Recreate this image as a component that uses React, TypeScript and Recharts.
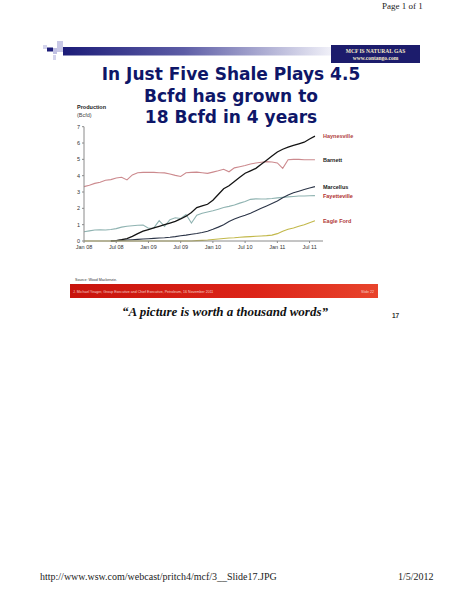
import React from "react";
import { LineChart, Line, XAxis, YAxis } from "recharts";

// months since Jan 08 (0..43 = Jan 08 .. Aug 11)
const months = Array.from({ length: 44 }, (_, i) => i);
const tickMonths = [0, 6, 12, 18, 24, 30, 36, 42];
const tickLabels = ["Jan 08", "Jul 08", "Jan 09", "Jul 09", "Jan 10", "Jul 10", "Jan 11", "Jul 11"];
const yTicks = [0, 1, 2, 3, 4, 5, 6, 7];

// production, Bcfd
const haynesville = [
  null, null, null, null, null, 0, 0.02, 0.08, 0.15, 0.28, 0.45, 0.6, 0.7, 0.8, 0.9, 1.0,
  1.1, 1.2, 1.35, 1.52, 1.75, 2.05, 2.15, 2.25, 2.5, 2.85, 3.2, 3.38, 3.65, 3.9, 4.15, 4.3,
  4.45, 4.7, 4.95, 5.2, 5.45, 5.62, 5.75, 5.85, 5.95, 6.05, 6.25, 6.42,
];
const barnett = [
  3.33, 3.42, 3.53, 3.6, 3.72, 3.76, 3.86, 3.9, 3.74, 4.05, 4.18, 4.2, 4.2, 4.2, 4.18, 4.17,
  4.1, 4.02, 3.95, 4.18, 4.2, 4.22, 4.18, 4.14, 4.22, 4.3, 4.39, 4.24, 4.48, 4.55, 4.62, 4.72,
  4.78, 4.82, 4.86, 4.84, 4.78, 4.45, 4.98, 5.0, 5.0, 4.98, 4.98, 4.98,
];
const marcellus = [
  null, null, null, null, null, 0, 0.02, 0.04, 0.06, 0.08, 0.1, 0.12, 0.14, 0.16, 0.18, 0.2,
  0.23, 0.27, 0.32, 0.36, 0.41, 0.46, 0.52, 0.6, 0.72, 0.85, 1.0, 1.2, 1.35, 1.47, 1.58, 1.7,
  1.85, 2.0, 2.15, 2.3, 2.45, 2.65, 2.82, 2.95, 3.05, 3.15, 3.25, 3.33,
];
const fayetteville = [
  0.57, 0.62, 0.67, 0.68, 0.67, 0.7, 0.76, 0.85, 0.9, 0.93, 0.96, 0.98, 0.78, 0.8, 1.25, 0.9,
  1.3, 1.42, 1.38, 1.62, 1.1, 1.58, 1.7, 1.78, 1.85, 1.95, 2.05, 2.12, 2.2, 2.32, 2.42, 2.55,
  2.58, 2.57, 2.58, 2.6, 2.64, 2.67, 2.7, 2.73, 2.76, 2.76, 2.77, 2.78,
];
const eagleFord = [
  0, 0, 0, 0, 0, 0, 0, 0, 0, 0, 0, 0, 0, 0, 0, 0,
  0, 0, 0, 0, 0, 0.02, 0.04, 0.06, 0.09, 0.12, 0.15, 0.18, 0.2, 0.23, 0.25, 0.27,
  0.29, 0.31, 0.33, 0.36, 0.45, 0.6, 0.72, 0.8, 0.9, 1.0, 1.12, 1.24,
];

const data = months.map((m, i) => ({
  m,
  haynesville: haynesville[i],
  barnett: barnett[i],
  marcellus: marcellus[i],
  fayetteville: fayetteville[i],
  eagleFord: eagleFord[i],
}));

const last = months.length - 1;

const endLabel = (name: string, color: string) => (props: any) => {
  if (props.index !== last) return null;
  return (
    <text
      x={props.x + 8}
      y={props.y + 2}
      fontSize={5.5}
      fontWeight="bold"
      fontFamily="Liberation Sans, Arial, sans-serif"
      fill={color}
    >
      {name}
    </text>
  );
};

const tickFmt = (v: number) => tickLabels[tickMonths.indexOf(v)] ?? "";

const PageDecor = () => (
  <svg width={464} height={600} style={{ position: "absolute", left: 0, top: 0 }}>
    <defs>
      <linearGradient id="hdr" x1="0" x2="1" y1="0" y2="0">
        <stop offset="0%" stopColor="#1c1c78" />
        <stop offset="45%" stopColor="#5d5da6" />
        <stop offset="100%" stopColor="#f0f0f8" />
      </linearGradient>
      <linearGradient id="red" x1="0" x2="1" y1="0" y2="0">
        <stop offset="0%" stopColor="#c8140c" />
        <stop offset="60%" stopColor="#dc2418" />
        <stop offset="100%" stopColor="#e8442c" />
      </linearGradient>
    </defs>
    <text x={382} y={9} fontSize={9} fontFamily="Liberation Serif, serif" fill="#222">Page 1 of 1</text>

    {/* slide header */}
    <rect x={57} y={41} width={6} height={11} fill="#c8c8e6" />
    <rect x={43} y={45} width={4} height={4} fill="#d4d4ec" />
    <rect x={53} y={48} width={4} height={6} fill="#c0c0e2" />
    <rect x={53} y={55} width={3} height={5} fill="#d4d4ec" />
    <rect x={47} y={47.5} width={6} height={4} fill="#1c1c78" />
    <rect x={63} y={47} width={268} height={8.5} fill="url(#hdr)" />
    <rect x={331} y={45} width={89} height={18} fill="#1c1c6c" />
    <text x={375.5} y={52.5} fontSize={5.5} fontWeight="bold" textAnchor="middle" fontFamily="Liberation Serif, serif" fill="#f2e8c8">MCF IS NATURAL GAS</text>
    <text x={375.5} y={59.5} fontSize={5.5} fontWeight="bold" textAnchor="middle" fontFamily="Liberation Serif, serif" fill="#f2e8c8">www.contango.com</text>

    <g fontFamily="DejaVu Sans, sans-serif" fontWeight="bold" fontSize={17} fill="#0e1668" textAnchor="middle">
      <text x={231} y={80}>In Just Five Shale Plays 4.5</text>
      <text x={231} y={101.5}>Bcfd has grown to</text>
      <text x={231} y={122.5}>18 Bcfd in 4 years</text>
    </g>

    <text x={77} y={109} fontSize={5.5} fontWeight="bold" fontFamily="Liberation Sans, sans-serif" fill="#222">Production</text>
    <text x={77} y={117} fontSize={5.5} fontFamily="Liberation Sans, sans-serif" fill="#444">(Bcfd)</text>

    <text x={75} y={281} fontSize={3.6} fontFamily="Liberation Sans, sans-serif" fill="#333">Source: Wood Mackenzie.</text>
    <rect x={70} y={284} width={308} height={14} fill="url(#red)" />
    <text x={73} y={292.5} fontSize={3.6} fontFamily="Liberation Sans, sans-serif" fill="#f6d0c8">J. Michael Yeager, Group Executive and Chief Executive, Petroleum, 16 November 2011</text>
    <text x={374} y={292.5} fontSize={3.6} textAnchor="end" fontFamily="Liberation Sans, sans-serif" fill="#f6d0c8">Slide 22</text>

    <text x={225} y={316} fontSize={13} fontWeight="bold" fontStyle="italic" textAnchor="middle" fontFamily="Liberation Serif, serif" fill="#111">“A picture is worth a thousand words”</text>
    <text x={392} y={318} fontSize={6.5} fontWeight="bold" fontFamily="Liberation Sans, sans-serif" fill="#333">17</text>

    <text x={40} y={580} fontSize={10} fontFamily="Liberation Serif, serif" fill="#222">http://www.wsw.com/webcast/pritch4/mcf/3__Slide17.JPG</text>
    <text x={398} y={580} fontSize={10} fontFamily="Liberation Serif, serif" fill="#222">1/5/2012</text>
  </svg>
);

export default function App() {
  const tickStyle = { fontSize: 5.5, fill: "#333", fontFamily: "Liberation Sans, Arial, sans-serif" };
  return (
    <div style={{ position: "absolute", left: 0, top: 0, width: 464, height: 600, background: "#fff", overflow: "hidden" }}>
      <PageDecor />
      <div style={{ position: "absolute", left: 60, top: 115 }}>
        <LineChart
          width={300}
          height={145}
          data={data}
          margin={{ top: 11.7, right: 37, left: 0, bottom: 0 }}
          style={{ overflow: "visible" }}
        >
          <XAxis
            dataKey="m"
            type="number"
            domain={[0, 44.5]}
            ticks={tickMonths}
            tickFormatter={tickFmt}
            height={19}
            tick={tickStyle}
            tickSize={2}
            stroke="#8a8a8a"
            interval={0}
          />
          <YAxis
            type="number"
            domain={[0, 7]}
            ticks={yTicks}
            width={24}
            tick={tickStyle}
            tickSize={2}
            stroke="#8a8a8a"
            interval={0}
          />
          <Line dataKey="barnett" stroke="#cc8a8e" strokeWidth={1.1} dot={false} isAnimationActive={false} label={endLabel("Barnett", "#222")} />
          <Line dataKey="fayetteville" stroke="#8fb3b1" strokeWidth={1.1} dot={false} isAnimationActive={false} label={endLabel("Fayetteville", "#b03030")} />
          <Line dataKey="marcellus" stroke="#2b3447" strokeWidth={1.1} dot={false} isAnimationActive={false} connectNulls={false} label={endLabel("Marcellus", "#222")} />
          <Line dataKey="haynesville" stroke="#141414" strokeWidth={1.3} dot={false} isAnimationActive={false} connectNulls={false} label={endLabel("Haynesville", "#b04040")} />
          <Line dataKey="eagleFord" stroke="#c2b84a" strokeWidth={1.1} dot={false} isAnimationActive={false} label={endLabel("Eagle Ford", "#b03838")} />
        </LineChart>
      </div>
    </div>
  );
}
